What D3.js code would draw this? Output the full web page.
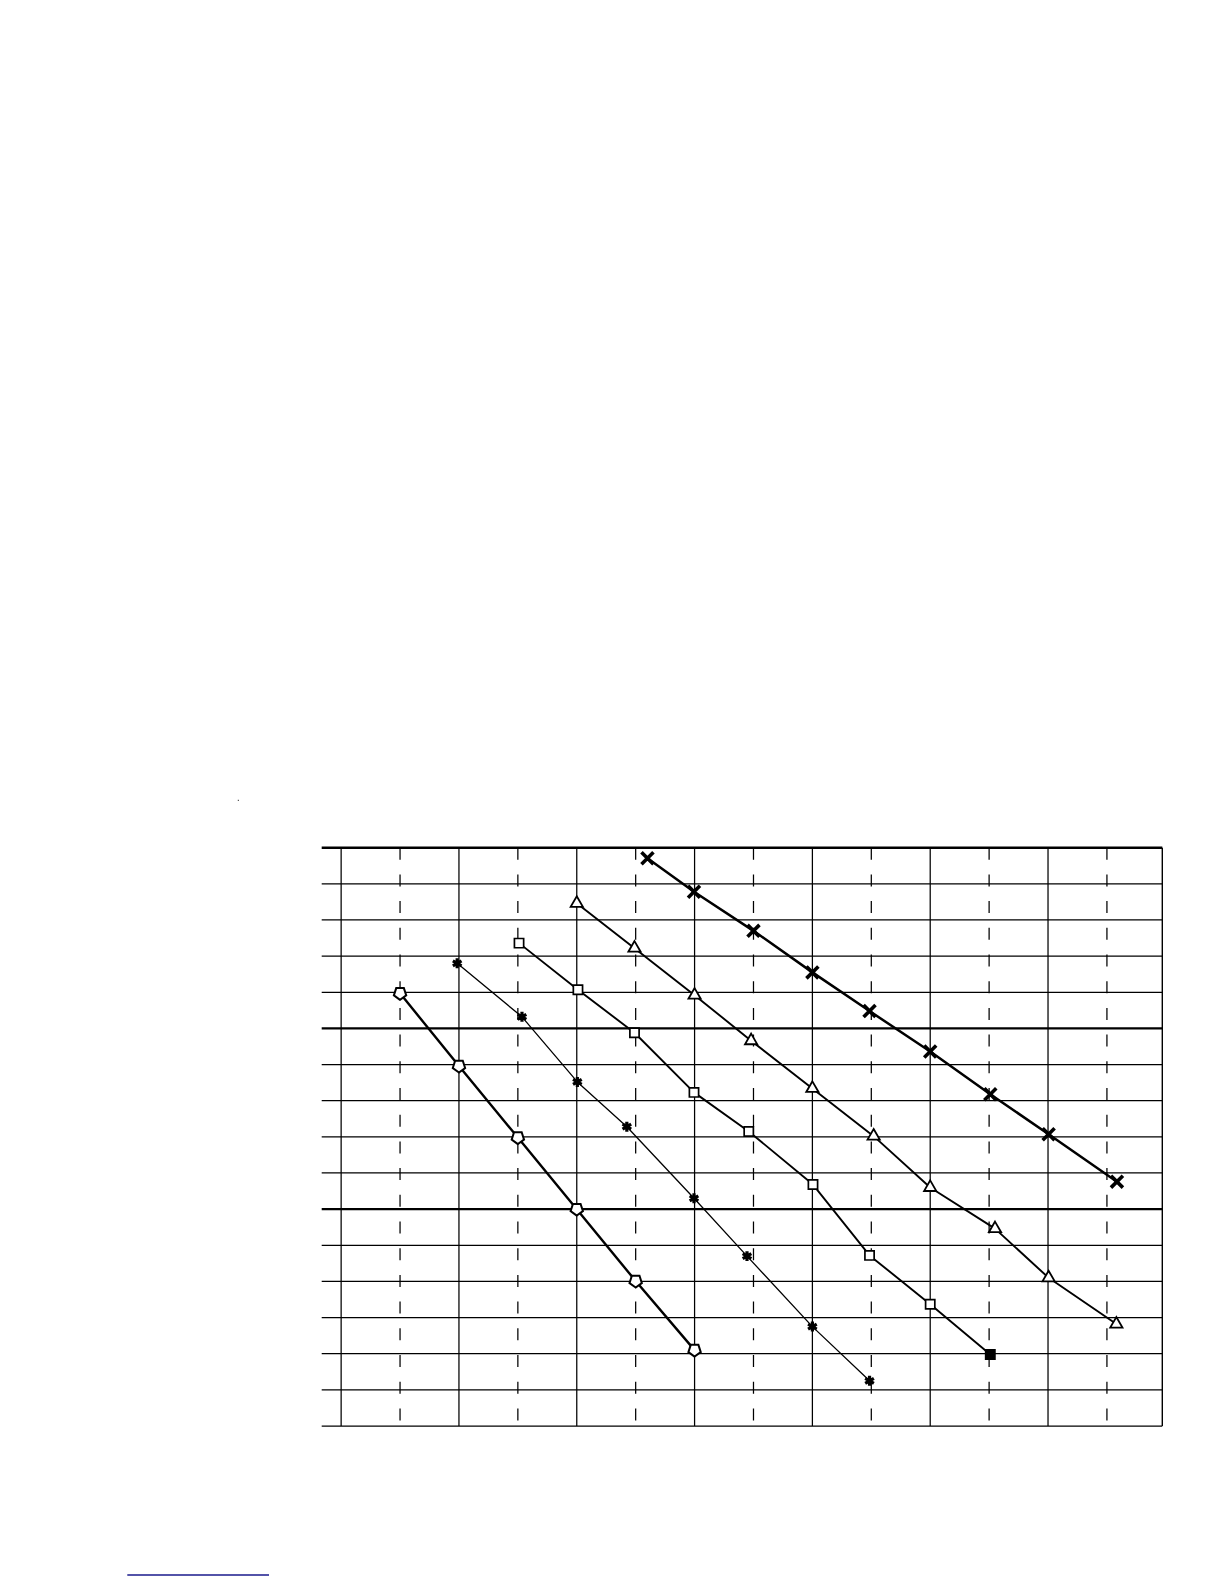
<!DOCTYPE html>
<html>
<head>
<meta charset="utf-8">
<script src="https://cdn.jsdelivr.net/npm/d3@7"></script>
<style>
  html, body { margin: 0; padding: 0; background: #fff; }
  svg { display: block; }
</style>
</head>
<body>
<svg id="chart" width="1224" height="1584"></svg>
<script>
// ---- data (grid units: x = half-column index, y = row index from top) ----
const pentagonX = [1, 2, 3, 4, 5, 6];
const pentagonY = [4.03, 6.04, 8.02, 10.0, 11.99, 13.9];

const starX = [1.97, 3.07, 4.01, 4.85, 5.99, 6.89, 8.0, 8.97];
const starY = [3.2, 4.68, 6.48, 7.72, 9.7, 11.3, 13.25, 14.75];

const squareX = [3.02, 4.02, 4.98, 5.99, 6.92, 8.01, 8.97, 10.0, 11.02];
const squareY = [2.64, 3.93, 5.12, 6.77, 7.85, 9.32, 11.28, 12.63, 14.02];

const triangleX = [4.0, 4.98, 6.0, 6.96, 8.0, 9.04, 10.0, 11.1, 12.01, 13.16];
const triangleY = [1.54, 2.78, 4.08, 5.34, 6.66, 7.98, 9.4, 10.54, 11.9, 13.18];

const crossX = [5.2, 5.99, 7.0, 8.0, 8.97, 10.0, 11.02, 12.01, 13.17];
const crossY = [0.29, 1.22, 2.3, 3.45, 4.52, 5.64, 6.82, 7.93, 9.24];

const xTicks = [0, 1, 2, 3, 4, 5, 6, 7, 8, 9, 10, 11, 12, 13];
const yTicks = [0, 1, 2, 3, 4, 5, 6, 7, 8, 9, 10, 11, 12, 13, 14, 15, 16];
const majorRows = [0, 5, 10];

// ---- layout ----
const svg = d3.select("#chart");
const x = d3.scaleLinear().domain([-0.33, 13.94]).range([321.7, 1162.3]);
const y = d3.scaleLinear().domain([0, 16]).range([847.7, 1426]);

const grid = svg.append("g");

// horizontal grid lines
grid.selectAll("line.h").data(yTicks).join("line")
  .attr("x1", x(-0.33)).attr("x2", x(13.94))
  .attr("y1", d => y(d)).attr("y2", d => y(d))
  .attr("stroke", "#000")
  .attr("stroke-width", d => d === 0 ? 2.5 : (majorRows.includes(d) ? 2.1 : 1.25));

// vertical grid lines (solid at even, dashed at odd)
grid.selectAll("line.v").data(xTicks).join("line")
  .attr("x1", d => x(d)).attr("x2", d => x(d))
  .attr("y1", y(0)).attr("y2", y(16))
  .attr("stroke", "#000")
  .attr("stroke-width", 1.25)
  .attr("stroke-dasharray", d => d % 2 === 1 ? "12,14.7" : null);

// right border
grid.append("line")
  .attr("x1", x(13.94)).attr("x2", x(13.94))
  .attr("y1", y(0)).attr("y2", y(16))
  .attr("stroke", "#000").attr("stroke-width", 1.4);

// ---- series ----
const line = d3.line().x(d => x(d[0])).y(d => y(d[1]));
const zip = (a, b) => a.map((v, i) => [v, b[i]]);

const series = [
  { xs: pentagonX, ys: pentagonY, lw: 2.4, type: "pentagon" },
  { xs: starX, ys: starY, lw: 1.3, type: "star" },
  { xs: squareX, ys: squareY, lw: 1.9, type: "square" },
  { xs: triangleX, ys: triangleY, lw: 1.9, type: "triangle" },
  { xs: crossX, ys: crossY, lw: 2.5, type: "cross" }
];

const pentagonPath = (() => {
  const r = 6.5, pts = [];
  for (let i = 0; i < 5; i++) {
    const a = Math.PI / 2 + i * 2 * Math.PI / 5; // point down
    pts.push([r * Math.cos(a), r * Math.sin(a)]);
  }
  return "M" + pts.map(p => p.join(",")).join("L") + "Z";
})();

series.forEach(s => {
  const pts = zip(s.xs, s.ys);
  svg.append("path")
    .attr("d", line(pts))
    .attr("fill", "none")
    .attr("stroke", "#000")
    .attr("stroke-width", s.lw)
    .attr("stroke-linejoin", "round");

  const g = svg.append("g");
  const m = g.selectAll("path").data(pts).join("path")
    .attr("transform", d => `translate(${x(d[0])},${y(d[1])})`);

  if (s.type === "pentagon") {
    m.attr("d", pentagonPath).attr("fill", "#fff").attr("stroke", "#000").attr("stroke-width", 2);
  } else if (s.type === "star") {
    m.attr("d", d3.symbol(d3.symbolAsterisk, 70)())
      .attr("fill", "none").attr("stroke", "#000").attr("stroke-width", 3.2);
  } else if (s.type === "square") {
    m.attr("d", d3.symbol(d3.symbolSquare, 85)())
      .attr("fill", (d, i) => i === pts.length - 1 ? "#000" : "#fff")
      .attr("stroke", "#000").attr("stroke-width", 1.7);
  } else if (s.type === "triangle") {
    m.attr("d", d3.symbol(d3.symbolTriangle, 65)())
      .attr("fill", "#fff").attr("stroke", "#000").attr("stroke-width", 1.8);
  } else if (s.type === "cross") {
    m.attr("d", d3.symbol(d3.symbolTimes, 95)())
      .attr("fill", "none").attr("stroke", "#000").attr("stroke-width", 3.6);
  }
});

// stray page marks
svg.append("rect").attr("x", 237.8).attr("y", 799.8).attr("width", 1).attr("height", 1).attr("fill", "#000");
svg.append("line")
  .attr("x1", 127.3).attr("x2", 269).attr("y1", 1575).attr("y2", 1575)
  .attr("stroke", "#1a1a8c").attr("stroke-width", 1.5);
</script>
</body>
</html>
